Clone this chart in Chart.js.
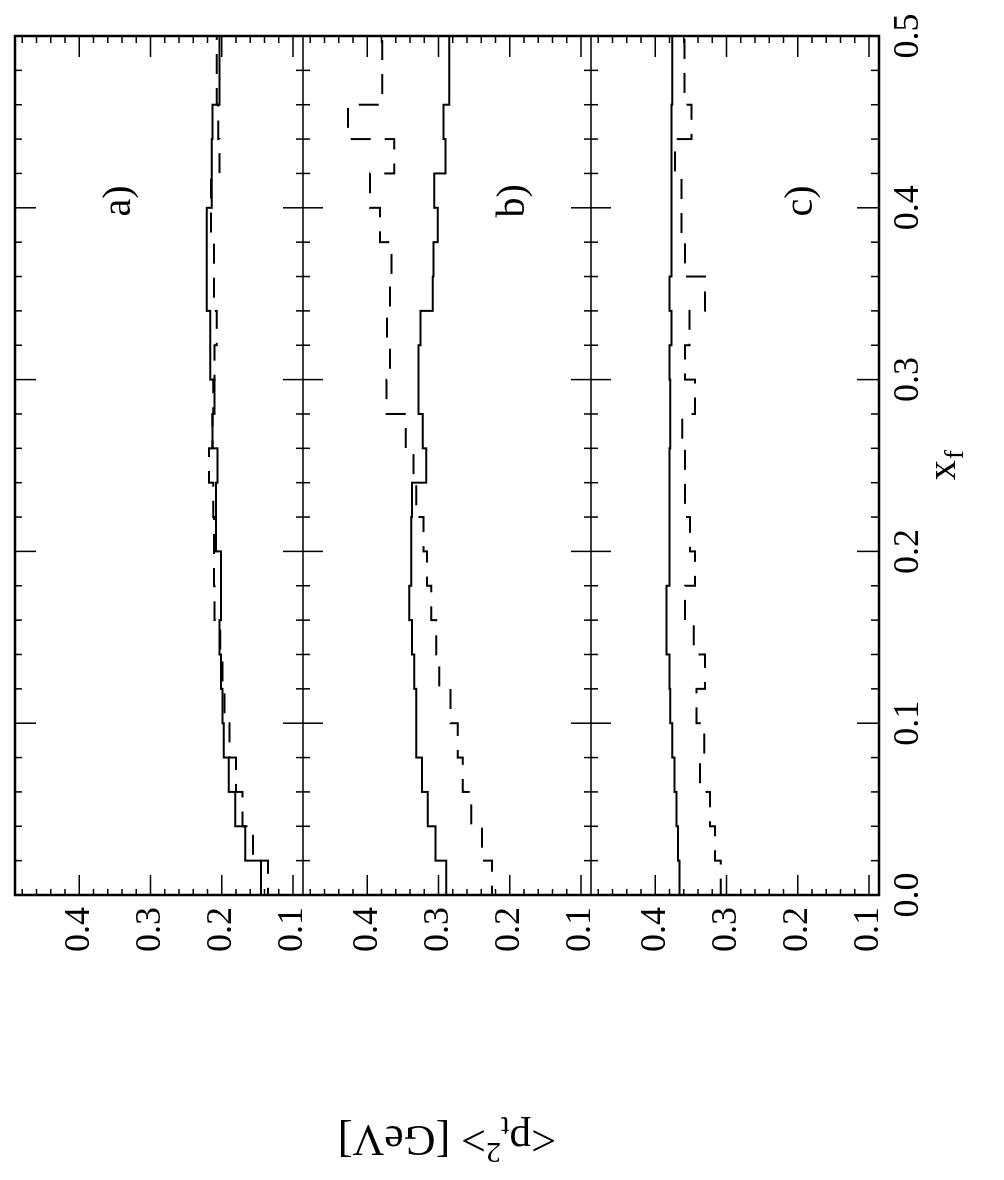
<!DOCTYPE html>
<html>
<head>
<meta charset="utf-8">
<title>pt2 vs xf</title>
<style>
  html, body { margin: 0; padding: 0; background: #fff; }
  body { width: 1004px; height: 1180px; overflow: hidden; position: relative; }
  /* the figure is drawn landscape and turned a quarter turn, like the scan */
  #wrap { position: absolute; left: 0; top: 0; width: 1180px; height: 1004px;
          transform-origin: 0 0; transform: translate(0, 1180px) rotate(-90deg); }
</style>
</head>
<body>
<div id="wrap"><canvas id="c" width="1180" height="1004"></canvas></div>

<script src="https://cdn.jsdelivr.net/npm/chart.js"></script>
<script>
  // left edges of the x_f bins, last bin ends at 0.5
  const binEdges = [0.00, 0.02, 0.04, 0.06, 0.08, 0.10, 0.12, 0.14, 0.16, 0.18,
                    0.20, 0.22, 0.24, 0.26, 0.28, 0.30, 0.32, 0.34, 0.36, 0.38,
                    0.40, 0.42, 0.44, 0.46, 0.48];
  const binEnd = 0.5;

  const xLabels = [0.0, 0.1, 0.2, 0.3, 0.4, 0.5];
  const yLabels = [0.1, 0.2, 0.3, 0.4];
  const yMin = 0.086, yMax = 0.49;

  // panel a)
  const aSolid  = [0.110, 0.145, 0.167, 0.181, 0.190, 0.197, 0.199, 0.201, 0.203, 0.201,
                   0.201, 0.208, 0.208, 0.206, 0.213, 0.210, 0.216, 0.216, 0.221, 0.221,
                   0.221, 0.214, 0.214, 0.213, 0.203];
  const aDashed = [0.117, 0.135, 0.156, 0.171, 0.180, 0.189, 0.196, 0.199, 0.202, 0.210,
                   0.211, 0.211, 0.212, 0.218, 0.213, 0.212, 0.210, 0.207, 0.211, 0.211,
                   0.215, 0.215, 0.203, 0.205, 0.207];
  // panel b)
  const bSolid  = [0.277, 0.289, 0.304, 0.315, 0.323, 0.331, 0.331, 0.334, 0.337, 0.341,
                   0.338, 0.338, 0.337, 0.317, 0.322, 0.328, 0.328, 0.325, 0.308, 0.307,
                   0.301, 0.306, 0.290, 0.293, 0.285];
  const bDashed = [0.210, 0.225, 0.239, 0.254, 0.266, 0.273, 0.283, 0.299, 0.303, 0.310,
                   0.316, 0.321, 0.331, 0.335, 0.346, 0.373, 0.368, 0.372, 0.368, 0.366,
                   0.382, 0.396, 0.362, 0.427, 0.379];
  // panel c)
  const cSolid  = [0.362, 0.366, 0.368, 0.370, 0.373, 0.376, 0.379, 0.380, 0.384, 0.384,
                   0.380, 0.380, 0.380, 0.380, 0.379, 0.379, 0.380, 0.377, 0.380, 0.377,
                   0.377, 0.377, 0.377, 0.377, 0.376];
  const cDashed = [0.303, 0.308, 0.316, 0.323, 0.337, 0.331, 0.342, 0.330, 0.346, 0.358,
                   0.344, 0.351, 0.358, 0.358, 0.362, 0.344, 0.358, 0.352, 0.330, 0.358,
                   0.363, 0.363, 0.372, 0.349, 0.359];

  const panelNames = ['a)', 'b)', 'c)'];
  const panelNameX = 0.404;
  const panelNameY = [0.344, 0.195, 0.195];

  const serif = '"Liberation Serif", "DejaVu Serif", serif';

  function steps(vals) {
    const pts = binEdges.map((x, i) => ({ x: x, y: vals[i] }));
    pts.push({ x: binEnd, y: vals[vals.length - 1] });
    return pts;
  }

  function hist(vals, axis, dashed) {
    return {
      data: steps(vals),
      yAxisID: axis,
      borderColor: '#000',
      borderWidth: 2,
      borderDash: dashed ? [20, 14] : [],
      stepped: 'after',
      pointRadius: 0,
      fill: false
    };
  }

  function panelAxis() {
    return {
      type: 'linear', position: 'left', stack: 'panels', stackWeight: 1,
      min: yMin, max: yMax,
      grid: { display: false, drawTicks: false },
      border: { display: false },
      afterBuildTicks: s => { s.ticks = yLabels.map(v => ({ value: v })); },
      afterFit: s => { s.width = 285; s.paddingTop = 0; s.paddingBottom = 0; },
      ticks: { color: '#000', padding: 12, font: { family: serif, size: 36 },
               callback: v => v.toFixed(1) }
    };
  }

  // frame, inward ticks, panel separators and the texts
  const framePlugin = {
    id: 'frame',
    afterDatasetsDraw(chart) {
      const { ctx, chartArea: ca, scales } = chart;
      const x = scales.x;
      const panels = ['ya', 'yb', 'yc'].map(id => scales[id]);
      ctx.save();
      ctx.strokeStyle = '#000';
      ctx.fillStyle = '#000';

      ctx.lineWidth = 1.5;
      ctx.beginPath();
      panels.slice(0, 2).forEach(p => {
        ctx.moveTo(ca.left, p.bottom); ctx.lineTo(ca.right, p.bottom);
      });
      // x_f ticks: top, bottom and across the separators
      for (let i = 0; i <= 25; i++) {
        const px = x.getPixelForValue(i * 0.02);
        const major = i % 5 === 0;
        ctx.moveTo(px, ca.top); ctx.lineTo(px, ca.top + (major ? 21 : 7));
        ctx.moveTo(px, ca.bottom); ctx.lineTo(px, ca.bottom - (major ? 22 : 8));
        panels.slice(0, 2).forEach(p => {
          const L = major ? 20 : 7;
          ctx.moveTo(px, p.bottom - L); ctx.lineTo(px, p.bottom + L);
        });
      }
      // <pt2> ticks on both sides of every panel
      panels.forEach(p => {
        for (let k = Math.ceil(yMin / 0.02); k * 0.02 <= yMax; k++) {
          const py = p.getPixelForValue(k * 0.02);
          const major = k % 5 === 0;
          ctx.moveTo(ca.left, py); ctx.lineTo(ca.left + (major ? 20 : 6), py);
          ctx.moveTo(ca.right, py); ctx.lineTo(ca.right - (major ? 21 : 7), py);
        }
      });
      ctx.stroke();

      ctx.lineWidth = 2.5;
      ctx.strokeRect(ca.left, ca.top, ca.width, ca.height);

      // panel names
      ctx.font = '40px ' + serif;
      ctx.textAlign = 'center';
      ctx.textBaseline = 'middle';
      panels.forEach((p, i) => {
        ctx.fillText(panelNames[i], x.getPixelForValue(panelNameX), p.getPixelForValue(panelNameY[i]));
      });

      // x_f title
      const xc = (ca.left + ca.right) / 2;
      ctx.textAlign = 'left';
      ctx.textBaseline = 'alphabetic';
      ctx.font = '40px ' + serif;
      const wx = ctx.measureText('x').width;
      ctx.font = '28px ' + serif;
      const wf = ctx.measureText('f').width;
      let cx = xc - (wx + wf) / 2;
      ctx.font = '40px ' + serif;
      ctx.fillText('x', cx, 955);
      ctx.font = '28px ' + serif;
      ctx.fillText('f', cx + wx + 1, 963);

      // <pt2> [GeV] title, turned like a y title
      const parts = [
        { t: '<p', size: 44, dy: 0 },
        { t: 't', size: 30, dy: 9 },
        { t: '2', size: 30, dy: -17 },
        { t: '> [GeV]', size: 44, dy: 0 }
      ];
      let total = 0;
      parts.forEach(pt => { ctx.font = pt.size + 'px ' + serif; pt.w = ctx.measureText(pt.t).width; total += pt.w; });
      ctx.translate(40, (ca.top + ca.bottom) / 2);
      ctx.rotate(-Math.PI / 2);
      let tx = -total / 2;
      parts.forEach(pt => {
        ctx.font = pt.size + 'px ' + serif;
        ctx.fillText(pt.t, tx, 14 + pt.dy);
        tx += pt.w;
      });
      ctx.restore();
    }
  };

  new Chart(document.getElementById('c'), {
    type: 'line',
    data: {
      datasets: [
        hist(aSolid, 'ya', false), hist(aDashed, 'ya', true),
        hist(bSolid, 'yb', false), hist(bDashed, 'yb', true),
        hist(cSolid, 'yc', false), hist(cDashed, 'yc', true)
      ]
    },
    options: {
      responsive: false,
      animation: false,
      events: [],
      layout: { padding: { left: 0, right: 36, top: 15, bottom: 0 } },
      plugins: { legend: { display: false }, tooltip: { enabled: false } },
      scales: {
        x: {
          type: 'linear', min: 0, max: 0.5,
          grid: { display: false, drawTicks: false },
          border: { display: false },
          afterBuildTicks: s => { s.ticks = xLabels.map(v => ({ value: v })); },
          afterFit: s => { s.height = 125; s.paddingLeft = 0; s.paddingRight = 0; },
          ticks: { color: '#000', padding: 8, maxRotation: 0, autoSkip: false,
                   font: { family: serif, size: 36 }, callback: v => v.toFixed(1) }
        },
        yc: panelAxis(),
        yb: panelAxis(),
        ya: panelAxis()
      }
    },
    plugins: [framePlugin]
  });
</script>
</body>
</html>
